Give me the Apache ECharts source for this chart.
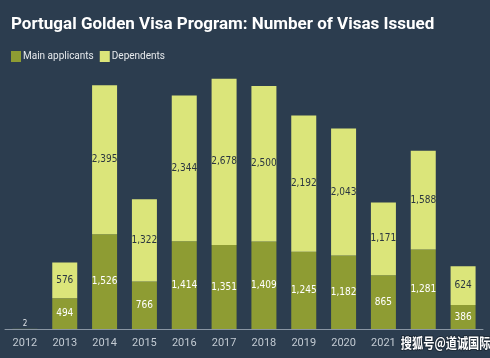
<!DOCTYPE html>
<html>
<head>
<meta charset="utf-8">
<script src="https://cdn.jsdelivr.net/npm/echarts@6/dist/echarts.min.js"></script>
<style>
html,body{margin:0;padding:0;background:#2c3d4f;}
#c{width:490px;height:358px;}
</style>
</head>
<body>
<div id="c"></div>
<script>
const years = ['2012','2013','2014','2015','2016','2017','2018','2019','2020','2021','2022','2023'];
const mainApplicants = [2, 494, 1526, 766, 1414, 1351, 1409, 1245, 1182, 865, 1281, 386];
const dependents = [null, 576, 2395, 1322, 2344, 2678, 2500, 2192, 2043, 1171, 1588, 624];
const hiddenTickLabels = ['2022','2023'];

const NARROW = "'DejaVu Sans Condensed', 'Roboto', sans-serif";
const fmt = v => v.toLocaleString('en-US');

const chart = echarts.init(document.getElementById('c'));
chart.setOption({
  backgroundColor: '#2c3d4f',
  animation: false,
  title: {
    text: 'Portugal Golden Visa Program: Number of Visas Issued',
    left: 6, top: 11,
    textStyle: {color: '#ffffff', fontSize: 17, fontWeight: 'bold', fontFamily: 'Roboto'}
  },
  legend: {
    left: 6, top: 46, itemWidth: 10, itemHeight: 11, itemGap: 6,
    icon: 'rect',
    textStyle: {color: '#e6e9ec', fontSize: 10, fontFamily: 'Roboto', padding: [0,0,0,-3]},
    data: ['Main applicants', 'Dependents']
  },
  grid: {left: 5, right: 7, top: 68, bottom: 29},
  xAxis: {
    type: 'category',
    data: years,
    axisLine: {lineStyle: {color: '#8a96a3', width: 1}},
    axisTick: {show: false},
    axisLabel: {
      color: '#c3cbd3', fontSize: 11, fontFamily: 'Roboto', margin: 9,
      formatter: v => hiddenTickLabels.includes(v) ? '' : v
    }
  },
  yAxis: {type: 'value', min: 0, max: 4200, show: false, splitLine: {show: false}},
  series: [
    {
      name: 'Main applicants', type: 'bar', stack: 'visas', barWidth: 25,
      itemStyle: {color: '#8e9c33'},
      label: {show: true, position: 'inside', color: '#ffffff', fontSize: 10, fontFamily: NARROW,
              formatter: p => fmt(p.value)},
      data: mainApplicants.map(v => v < 50 ? {value: v, label: {position: 'top', distance: 1, fontSize: 8, color: '#dfe3e8'}} : v)
    },
    {
      name: 'Dependents', type: 'bar', stack: 'visas', barWidth: 25,
      itemStyle: {color: '#dbe57a'},
      label: {show: true, position: 'inside', color: '#2b3640', fontSize: 10, fontFamily: NARROW,
              formatter: p => fmt(p.value)},
      data: dependents
    }
  ],
  graphic: [{
    type: 'text', left: 400, top: 335, z: 100,
    scaleX: 0.8, originX: 400,
    style: {
      text: '搜狐号@道诚国际', fill: '#ffffff', font: "bold 14px 'Noto Sans CJK SC'",
      stroke: '#1e2a36', lineWidth: 2
    }
  }]
});
</script>
</body>
</html>
